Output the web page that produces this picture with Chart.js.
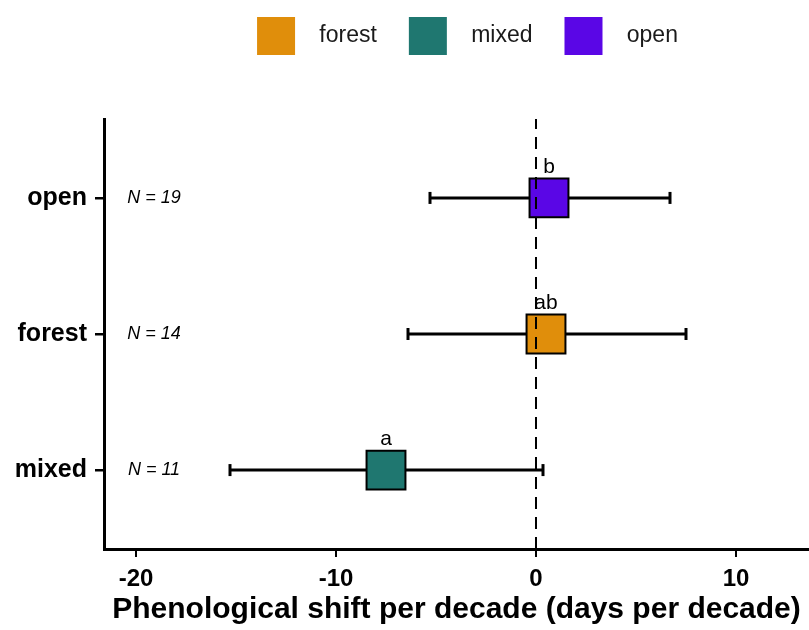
<!DOCTYPE html>
<html lang="en">
<head>
<meta charset="utf-8">
<title>Phenological shift per decade</title>
<script src="https://cdn.jsdelivr.net/npm/chart.js@4.4.1/dist/chart.umd.min.js"></script>
<style>
  html, body { margin: 0; padding: 0; background: #fff; overflow: hidden; }
  .chart-container { width: 809px; height: 630px; }
</style>
</head>
<body>
<div class="chart-container"><canvas id="myChart"></canvas></div>
<script>
"use strict";

// DATA

// Categories from bottom to top on the y-axis (y = 1, 2, 3).
const categories = ["mixed", "forest", "open"];
// Mean shift per category (the squares).
const means = [-7.5, 0.5, 0.65];
// Error bar ends per category.
const lowerValues = [-15.3, -6.4, -5.3];
const upperValues = [0.35, 7.5, 6.7];
// Sample sizes and significance letters.
const nLabels = ["N = 11", "N = 14", "N = 19"];
const letters = ["a", "ab", "b"];
// Legend order and colours.
const legendNames = ["forest", "mixed", "open"];
const legendColors = ["#E08E0B", "#1F7770", "#5A06E6"];
// Tick values.
const xTicks = [-20, -10, 0, 10];
const yTicks = [1, 2, 3];

// Axis ranges and where the N labels sit.
const xMin = -21.6, xMax = 13.65;
const yMin = 0.42, yMax = 3.58;
const nLabelX = -19.1;

const fontFamily = "'Liberation Sans', Arial, Helvetica, sans-serif";
Chart.defaults.font.family = fontFamily;
Chart.defaults.color = "#000";

// Builds the datasets.
const datasets = [];

// Squares, one dataset per group so they show in the legend.
legendNames.forEach((name, i) => {
    const idx = categories.indexOf(name);
    datasets.push({
        label: name,
        data: [{ x: means[idx], y: yTicks[idx] }],
        backgroundColor: legendColors[i],
        borderColor: legendColors[i],
        pointBackgroundColor: legendColors[i],
        pointBorderColor: "#000",
        pointBorderWidth: 2,
        pointStyle: "rect",
        pointRadius: 27.5,
        order: 1
    });
});

// Error bars with end caps.
categories.forEach((name, i) => {
    datasets.push({
        type: "line",
        label: "",
        data: [{ x: lowerValues[i], y: yTicks[i] }, { x: upperValues[i], y: yTicks[i] }],
        borderColor: "#000",
        borderWidth: 3,
        pointStyle: "line",
        pointRotation: 90,
        pointRadius: 6,
        pointBorderWidth: 3,
        pointBorderColor: "#000",
        order: 2
    });
});

// Dashed line at zero.
datasets.push({
    type: "line",
    label: "",
    data: [{ x: 0, y: yMin }, { x: 0, y: yMax }],
    borderColor: "#000",
    borderWidth: 2,
    borderDash: [12, 8],
    pointRadius: 0,
    order: 0
});

// Writes N labels and letters.
const textLabels = {
    id: "textLabels",
    afterDatasetsDraw(chart) {
        const { ctx, scales: { x, y } } = chart;
        ctx.save();
        ctx.fillStyle = "#000";
        ctx.textAlign = "center";

        // N per group, left in the panel.
        ctx.font = "italic 18px " + fontFamily;
        ctx.textBaseline = "middle";
        categories.forEach((c, i) => {
            ctx.fillText(nLabels[i], x.getPixelForValue(nLabelX), y.getPixelForValue(yTicks[i]));
        });

        // Letters above the squares.
        ctx.font = "21px " + fontFamily;
        ctx.textBaseline = "alphabetic";
        categories.forEach((c, i) => {
            ctx.fillText(letters[i], x.getPixelForValue(means[i]), y.getPixelForValue(yTicks[i]) - 25);
        });
        ctx.restore();
    }
};

// Moves the legend into place.
const legendShift = {
    id: "legendShift",
    afterLayout(chart) {
        const lg = chart.legend;
        lg.left += 11;
        lg.right += 11;
        lg.top -= 54;
        lg.bottom -= 54;
    }
};

// Hämtar in canvas.
const ctx = document.getElementById("myChart");

new Chart(ctx, {
    type: "scatter",
    data: { datasets: datasets },
    plugins: [textLabels, legendShift],
    options: {
        responsive: true,
        maintainAspectRatio: false,
        animation: false,
        events: [],
        layout: { autoPadding: false, padding: { top: 39, left: 0, right: 0, bottom: 0 } },
        plugins: {
            tooltip: { enabled: false },
            legend: {
                position: "top",
                fullSize: false,
                labels: {
                    boxWidth: 38,
                    boxHeight: 38,
                    padding: 32,
                    font: { size: 23 },
                    color: "#1a1a1a",
                    // Only the three groups, with a bit more room after the box.
                    generateLabels: chart => Chart.defaults.plugins.legend.labels.generateLabels(chart)
                        .filter(item => legendNames.includes(item.text))
                        .map(item => ({ ...item, text: "  " + item.text, lineWidth: 0 }))
                }
            }
        },
        scales: {
            x: {
                type: "linear",
                min: xMin,
                max: xMax,
                afterBuildTicks: axis => { axis.ticks = xTicks.map(v => ({ value: v })); },
                afterFit: axis => { axis.height = 81; },
                grid: { drawOnChartArea: false, drawTicks: true, tickLength: 8, color: "#000", lineWidth: 2 },
                border: { display: true, color: "#000", width: 3 },
                ticks: { font: { size: 24, weight: "bold" }, color: "#000", padding: 8 },
                title: {
                    display: true,
                    text: "Phenological shift per decade (days per decade)",
                    font: { size: 30, weight: "bold" },
                    color: "#000",
                    padding: { top: 0, bottom: 2 }
                }
            },
            y: {
                type: "linear",
                min: yMin,
                max: yMax,
                afterBuildTicks: axis => { axis.ticks = yTicks.map(v => ({ value: v })); },
                afterFit: axis => { axis.width = 104; },
                grid: { drawOnChartArea: false, drawTicks: true, tickLength: 9, color: "#000", lineWidth: 2.5 },
                border: { display: true, color: "#000", width: 3 },
                ticks: {
                    font: { size: 25, weight: "bold" },
                    color: "#000",
                    padding: 8,
                    callback: value => categories[yTicks.indexOf(value)]
                }
            }
        }
    }
});
</script>
</body>
</html>
